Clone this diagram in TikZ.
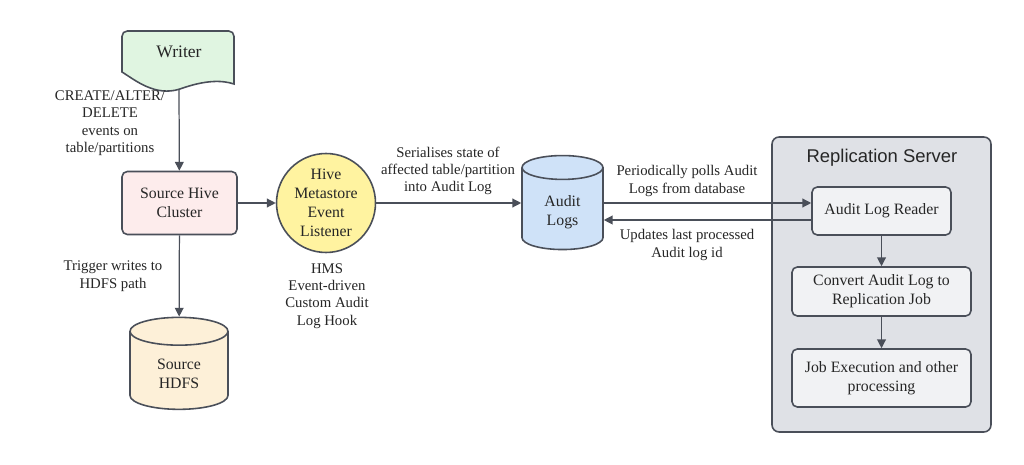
\documentclass[tikz,border=0pt]{standalone}
\usepackage{fontspec}
\setmainfont{Liberation Serif}
\newfontfamily\titlefont{Liberation Sans}
\usetikzlibrary{shapes.geometric,arrows.meta}
\definecolor{lineGray}{HTML}{4A4F59}
\definecolor{paleGreen}{HTML}{E0F5E1}
\definecolor{palePink}{HTML}{FDECEC}
\definecolor{palePeach}{HTML}{FDF0D8}
\definecolor{paleYellow}{HTML}{FFF3A0}
\definecolor{paleBlue}{HTML}{CFE2F8}
\definecolor{serverGray}{HTML}{DFE1E6}
\definecolor{boxGray}{HTML}{F1F2F4}

\begin{document}
\begin{tikzpicture}[x=0.02cm,y=-0.02cm,
    >={Triangle[length=5pt,width=5pt]},
    every node/.style={font=\fontsize{9}{10.8}\selectfont, align=center, text=black!85},
    box/.style={draw=lineGray, line width=0.9pt, rounded corners=3pt, inner sep=2pt},
    can/.style={cylinder, shape border rotate=90, aspect=0.5, draw=lineGray, line width=0.9pt},
    lbl/.style={font=\fontsize{8.4}{9.9}\selectfont},
    flow/.style={->, draw=lineGray, line width=0.7pt}]
    \useasboundingbox (0,0) rectangle (1024,465);
    \fill[white] (0,0) rectangle (1024,465);
    % writer (document shape)
    \draw[fill=paleGreen, draw=lineGray, line width=0.9pt] (122,72) [rounded corners=3pt] -- (122,31) -- (234,31) -- (234,60) [sharp corners] -- (234,84)
        .. controls (222,80) and (205,80) .. (180,89) .. controls (155,97) and (135,80) .. (122,72) -- cycle;
    \node[font=\fontsize{10}{12}\selectfont] (writer) at (179,52) {Writer};
    \coordinate (wbot) at (179,89);
    \node[box, fill=palePink, minimum width=2.3cm, minimum height=1.26cm] (shc) at (179.5,203) {Source Hive\\Cluster};
    \node[can, fill=palePeach, minimum width=1.96cm, minimum height=1.84cm] (hdfs) at (179,374) {Source\\HDFS};
    \node[circle, draw=lineGray, line width=0.9pt, fill=paleYellow, minimum size=1.98cm, inner sep=0pt] (hms) at (326,203) {Hive\\Metastore\\Event\\Listener};
    \node[can, fill=paleBlue, minimum width=1.62cm, minimum height=1.88cm] (audit) at (562.5,212) {Audit\\Logs};
    % replication server
    \node[draw=lineGray, line width=0.9pt, rounded corners=4pt, fill=serverGray, minimum width=4.38cm, minimum height=5.9cm] (server) at (881.5,284.5) {};
    \node[font=\titlefont\fontsize{10.5}{12}\selectfont] (title) at (882,158) {Replication Server};
    \node[box, fill=boxGray, minimum width=2.78cm, minimum height=0.96cm] (reader) at (881.5,211) {Audit Log Reader};
    \node[box, fill=boxGray, minimum width=3.58cm, minimum height=0.98cm] (convert) at (881.5,291.5) {Convert Audit Log to\\Replication Job};
    \node[box, fill=boxGray, minimum width=3.58cm, minimum height=1.16cm] (job) at (881.5,378) {Job Execution and other\\processing};
    % labels
    \node[lbl] (lblevents) at (110,123) {CREATE/ALTER/\\DELETE\\events on\\table/partitions};
    \node[lbl] (lbltrigger) at (113,276) {Trigger writes to\\HDFS path};
    \node[lbl] (lblhook) at (327,296) {HMS\\Event-driven\\Custom Audit\\Log Hook};
    \node[lbl] (lblserial) at (448,171) {Serialises state of\\affected table/partition\\into Audit Log};
    \node[lbl] (lblpoll) at (687,181) {Periodically polls Audit\\Logs from database};
    \node[lbl] (lblupdate) at (687,245) {Updates last processed\\Audit log id};
    % connectors
    \draw[flow] (wbot) -- (shc);
    \draw[flow] (shc) -- (hdfs);
    \draw[flow] (shc) -- (hms);
    \draw[flow] (hms) -- (hms -| audit.west);
    \coordinate (fwd) at ([yshift=0.16cm]reader.west);
    \coordinate (back) at ([yshift=-0.18cm]reader.west);
    \draw[flow] (fwd -| audit.east) -- (fwd);
    \draw[flow] (back) -- (back -| audit.east);
    \draw[flow] (reader) -- (convert);
    \draw[flow] (convert) -- (job);
\end{tikzpicture}
\end{document}
